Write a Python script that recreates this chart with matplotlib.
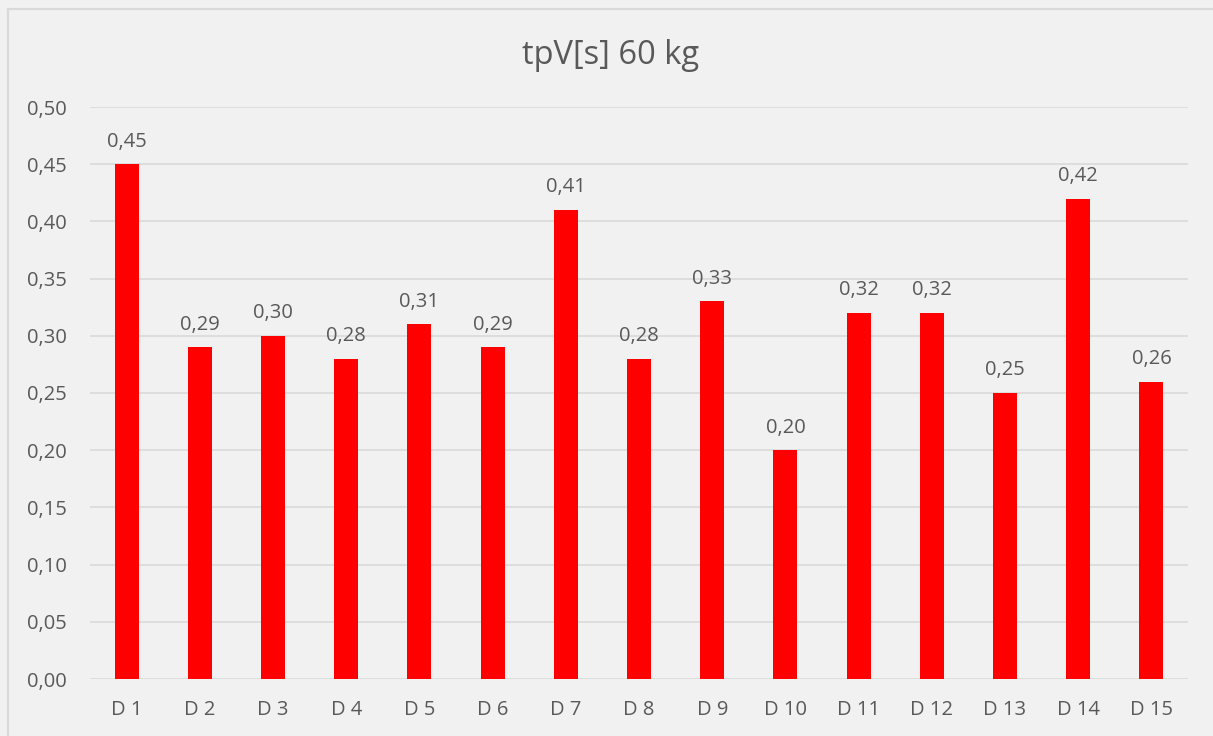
import matplotlib.pyplot as plt
from matplotlib.lines import Line2D
from matplotlib.ticker import FuncFormatter, MultipleLocator

categories = ['D 1', 'D 2', 'D 3', 'D 4', 'D 5', 'D 6', 'D 7', 'D 8',
              'D 9', 'D 10', 'D 11', 'D 12', 'D 13', 'D 14', 'D 15']
values = [0.45, 0.29, 0.30, 0.28, 0.31, 0.29, 0.41, 0.28,
          0.33, 0.20, 0.32, 0.32, 0.25, 0.42, 0.26]

bg = '#f1f1f1'
txt = '#595959'
plt.rcParams['font.family'] = ['Open Sans', 'DejaVu Sans']

def comma(v):
    return f'{v:.2f}'.replace('.', ',')

fig = plt.figure(figsize=(12.13, 7.36), dpi=100, facecolor=bg)
# chart frame: left and top edges only
fy = 1 - 8.5 / 736
fx = 7.5 / 1213
fig.add_artist(Line2D([fx, fx], [0, fy], transform=fig.transFigure,
                      color='#d9d9d9', lw=1.6))
fig.add_artist(Line2D([fx, 1], [fy, fy], transform=fig.transFigure,
                      color='#d9d9d9', lw=1.6))

ax = fig.add_axes([90 / 1213, 57 / 736, 1098 / 1213, 572 / 736])
ax.set_facecolor(bg)

x = range(len(categories))
ax.bar(x, values, width=0.33, color='#ff0000', zorder=3)
for xi, v in zip(x, values):
    ax.annotate(comma(v), (xi, v), xytext=(0, 9), textcoords='offset points',
                ha='center', va='bottom', fontsize=14.5, color=txt)

ax.set_xlim(-0.5, len(categories) - 0.5)
ax.set_ylim(0, 0.5)
ax.yaxis.set_major_locator(MultipleLocator(0.05))
ax.yaxis.set_major_formatter(FuncFormatter(lambda v, p: comma(v)))
ax.set_xticks(list(x))
ax.set_xticklabels(categories)
ax.tick_params(length=0, labelsize=14.5, labelcolor=txt)
ax.tick_params(axis='y', pad=17)
ax.tick_params(axis='x', pad=15)
ax.grid(axis='y', color='#d9d9d9', lw=1.2, zorder=0)
for s in ax.spines.values():
    s.set_visible(False)

fig.text(611 / 1213, 1 - 55 / 736, 'tpV[s] 60 kg', ha='center', va='center',
         fontsize=23.5, color=txt)

fig.savefig('out.png', facecolor=bg)
